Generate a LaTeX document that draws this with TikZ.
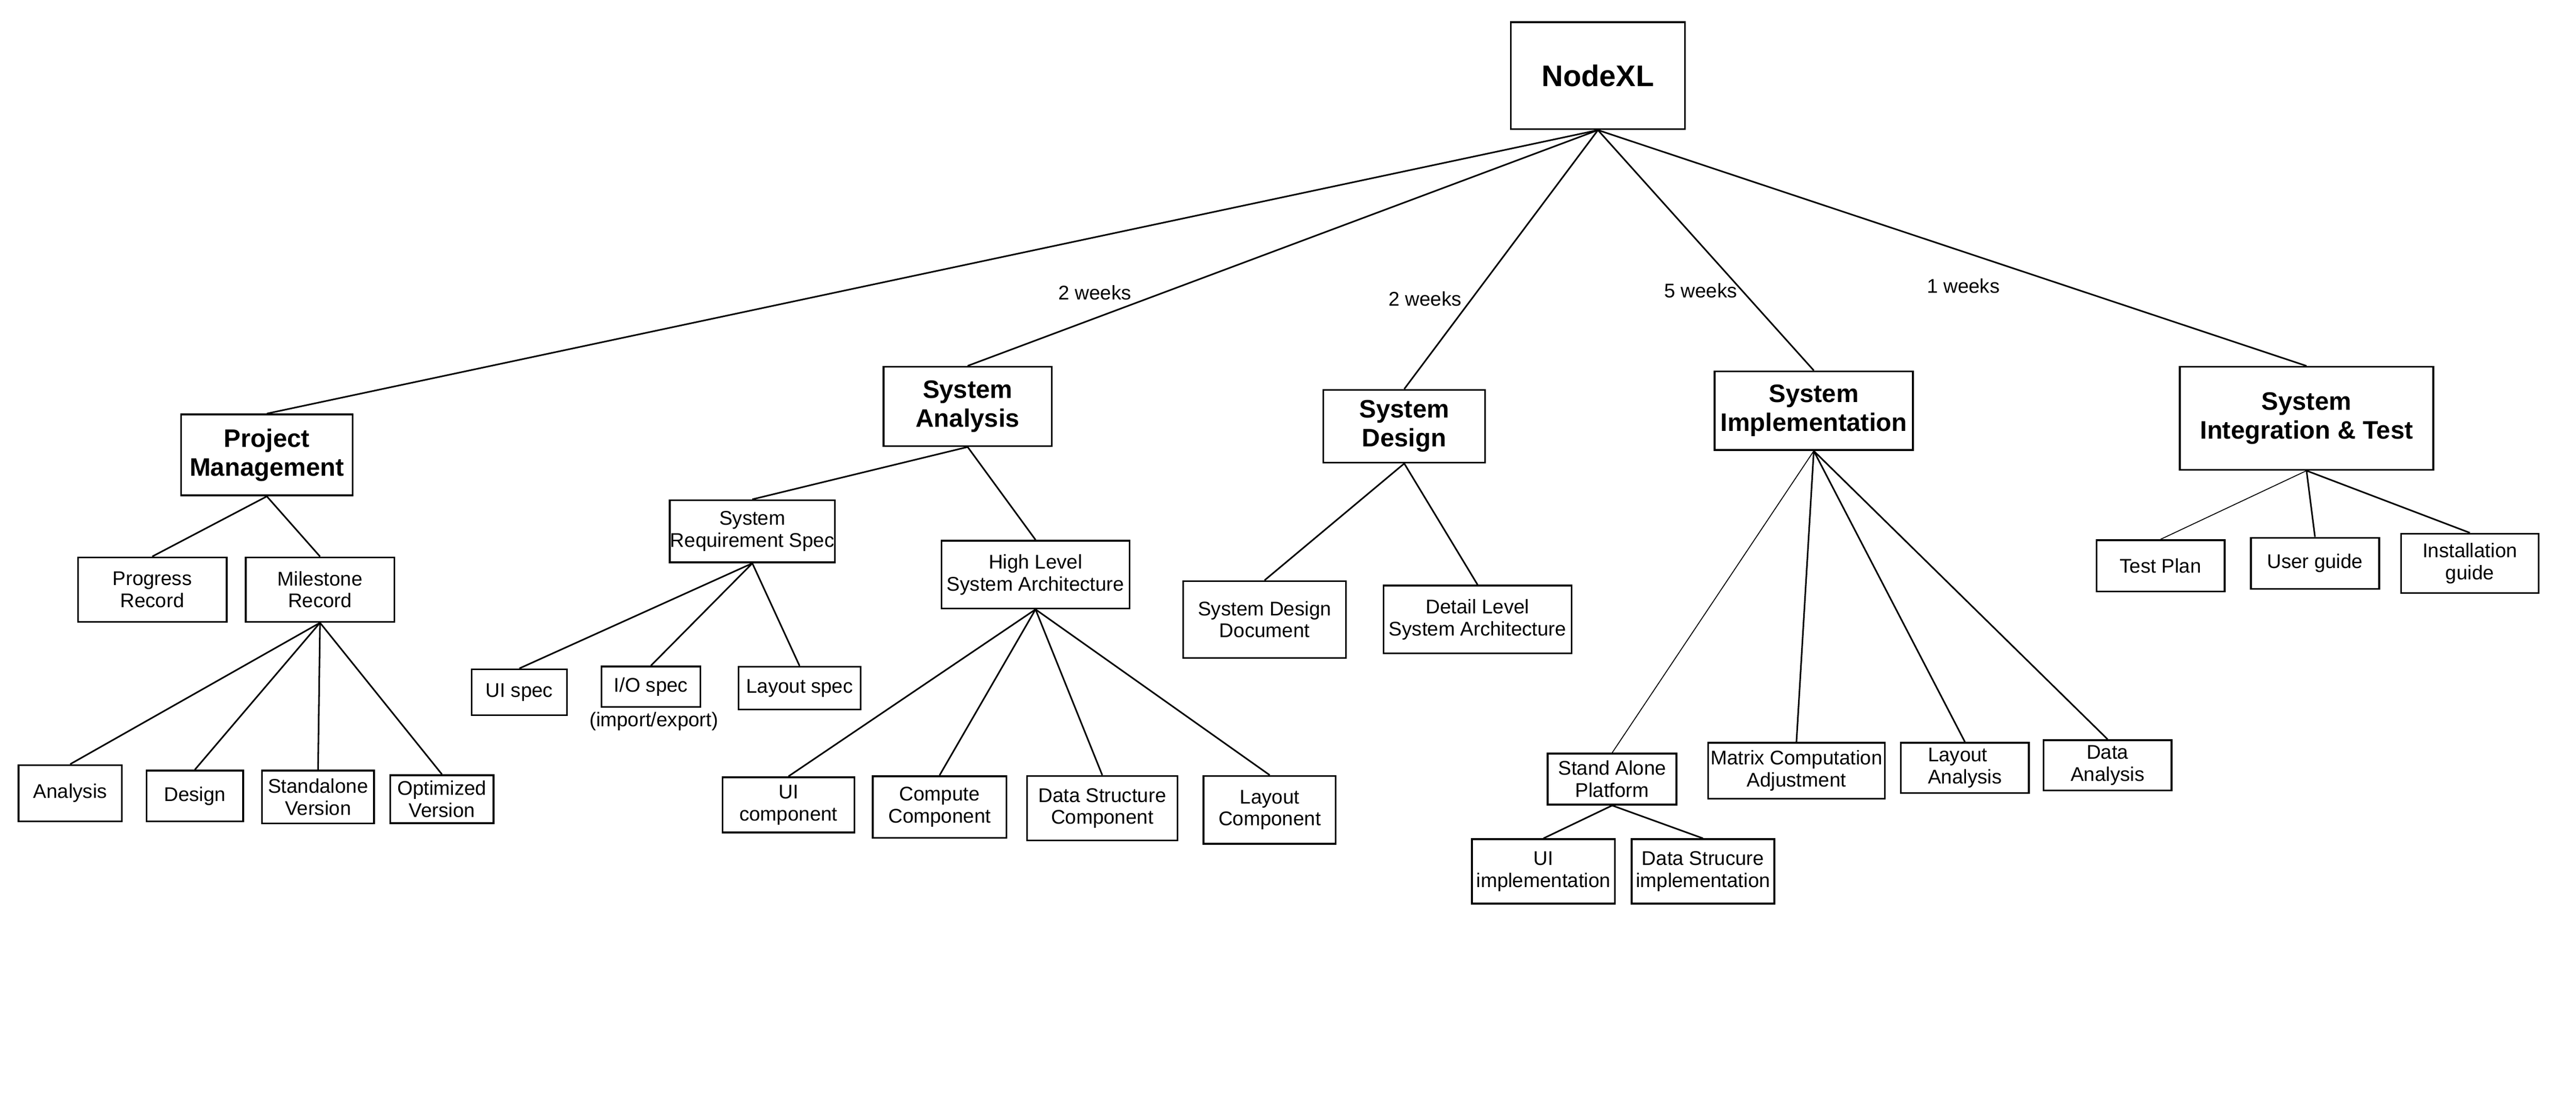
\documentclass[tikz,border=0pt]{standalone}
\usepackage{fontspec}
\setmainfont{Liberation Sans}
\usepackage{tikz}

\newcommand{\smalltext}{\fontsize{12}{13.3}\selectfont}
\newcommand{\titletext}{\fontsize{15.3}{17.5}\selectfont\bfseries}

\begin{document}
\begin{tikzpicture}[x=1pt, y=-1pt]
      \useasboundingbox (0,0) rectangle (1560,666.3);

      % top level
      \begin{scope}[every node/.style={rectangle, draw, line width=1.1pt, inner sep=0pt, align=center, font=\titletext}]
        \node[minimum width=105.5, minimum height=64.8, font=\fontsize{18}{21}\selectfont\bfseries] (0) at (967.7,45.8) {NodeXL};
        \node[minimum width=104, minimum height=49] (1) at (161.6,275.4) {Project\\Management};
        \node[minimum width=102, minimum height=48] (2) at (586,246) {System\\Analysis};
        \node[minimum width=98, minimum height=44] (3) at (850.4,258) {System\\Design};
        \node[minimum width=120, minimum height=47.6] (4) at (1098.4,248.6) {System\\Implementation};
        \node[minimum width=153.6, minimum height=62.3] (5) at (1396.8,253.2) {System\\Integration \& Test};
      \end{scope}

      % work packages
      \begin{scope}[every node/.style={rectangle, draw, line width=1.1pt, inner sep=0pt, align=center, font=\smalltext}]
        \node[minimum width=90, minimum height=39] (11) at (92.2,356.9) {Progress\\Record};
        \node[minimum width=90, minimum height=39] (12) at (193.8,356.9) {Milestone\\Record};
        \node[minimum width=62.7, minimum height=34] (121) at (42.5,480.1) {Analysis};
        \node[minimum width=58.5, minimum height=30.7] (122) at (118,481.8) {Design};
        \node[minimum width=67.8, minimum height=32] (123) at (192.6,482.4) {Standalone\\Version};
        \node[minimum width=62.6, minimum height=29] (124) at (267.6,483.7) {Optimized\\Version};

        \node[minimum width=100, minimum height=37.6] (21) at (455.6,321.6) {System\\Requirement Spec};
        \node[minimum width=114, minimum height=41] (22) at (627.1,347.8) {High Level\\System Architecture};
        \node[minimum width=57.8, minimum height=27.7] (211) at (314.5,419) {UI spec};
        \node[minimum width=60, minimum height=24.5] (212) at (394.2,415.7) {I/O spec};
        \node[minimum width=74, minimum height=25.8] (213) at (484.2,416.5) {Layout spec};
        \node[minimum width=80, minimum height=33.5] (221) at (477.5,487.2) {UI\\component};
        \node[minimum width=81, minimum height=37.4] (222) at (569,488.5) {Compute\\Component};
        \node[minimum width=91, minimum height=39] (223) at (667.5,489.2) {Data Structure\\Component};
        \node[minimum width=80, minimum height=41] (224) at (768.9,490.2) {Layout\\Component};

        \node[minimum width=98.5, minimum height=46.4] (31) at (765.8,375) {System Design\\Document};
        \node[minimum width=114, minimum height=41] (32) at (894.8,375) {Detail Level\\System Architecture};

        \node[minimum width=78, minimum height=30.8] (41) at (976.3,471.6) {Stand Alone\\Platform};
        \node[minimum width=107, minimum height=33.8] (42) at (1087.9,466.5) {Matrix Computation\\Adjustment};
        \node[minimum width=77.5, minimum height=30.4, align=left] (43) at (1189.9,464.8) {Layout\\Analysis};
        \node[minimum width=77.5, minimum height=30.4] (44) at (1276.3,463.2) {Data\\Analysis};
        \node[minimum width=86.5, minimum height=39] (411) at (934.7,527.5) {UI\\implementation};
        \node[minimum width=86.4, minimum height=39] (412) at (1031.3,527.5) {Data Strucure\\implementation};

        \node[minimum width=77.5, minimum height=31] (51) at (1308.4,342.5) {Test Plan};
        \node[minimum width=77.7, minimum height=31] (52) at (1401.9,341) {User guide};
        \node[minimum width=83.3, minimum height=35.9] (53) at (1495.7,341) {Installation\\guide};
      \end{scope}

      \node[font=\smalltext] (212n) at (396,436.7) {(import/export)};

      % durations
      \begin{scope}[every node/.style={font=\smalltext}]
        \node (w2) at (663,177) {2 weeks};
        \node (w3) at (863,181) {2 weeks};
        \node (w4) at (1030,176) {5 weeks};
        \node (w5) at (1189,173) {1 weeks};
      \end{scope}

      \begin{scope}[line width=0.95pt]
        \foreach \c in {1,2,3,4,5}
          \draw (0.south) -- (\c.north);
        \draw (1.south) -- (11.north);
        \draw (1.south) -- (12.north);
        \foreach \c in {121,122,123,124}
          \draw (12.south) -- (\c.north);
        \draw (2.south) -- (21.north);
        \draw (2.south) -- (22.north);
        \foreach \c in {211,212,213}
          \draw (21.south) -- (\c.north);
        \foreach \c in {221,222,223,224}
          \draw (22.south) -- (\c.north);
        \draw (3.south) -- (31.north);
        \draw (3.south) -- (32.north);
        \foreach \c in {42,43,44}
          \draw (4.south) -- (\c.north);
        \draw (41.south) -- (411.north);
        \draw (41.south) -- (412.north);
        \draw (5.south) -- (52.north);
        \draw (5.south) -- (53.north);
      \end{scope}

      \begin{scope}[line width=0.55pt]
        \draw (4.south) -- (41.north);
        \draw (5.south) -- (51.north);
      \end{scope}
   \end{tikzpicture}
\end{document}
